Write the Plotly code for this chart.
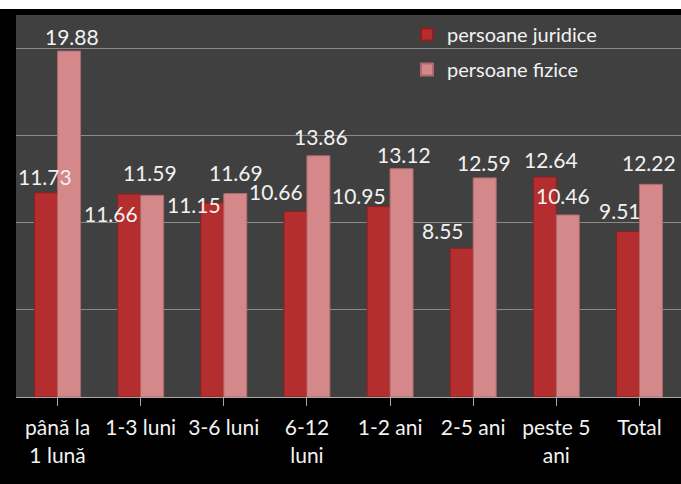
import plotly.graph_objects as go

categories = ["până la<br>1 lună", "1-3 luni", "3-6 luni", "6-12<br>luni",
              "1-2 ani", "2-5 ani", "peste 5<br>ani", "Total"]
juridice = [11.73, 11.66, 11.15, 10.66, 10.95, 8.55, 12.64, 9.51]
fizice = [19.88, 11.59, 11.69, 13.86, 13.12, 12.59, 10.46, 12.22]
series_names = ["persoane juridice", "persoane fizice"]

# label placement tweaks (pixels, relative to bar top centre)
jur_dx = [-1, -18, -18, -19, -20, -19, 6, -8]
jur_dy = [16, -19, -2, 20, 11, 18, 18, 21]
fiz_dx = [3, -2, 1, 3, 2, -1, -5, -2]
fiz_dy = [15, 23, 21, 19, 14, 15, 19, 22]

FONT = "Lato"
RED = "#b52e2f"
RED_EDGE = "#8c1f21"
PINK = "#d4888a"
PINK_EDGE = "#b06a6c"

x_idx = list(range(len(categories)))
BARGAP = 0.447
half = (1 - BARGAP) / 4  # centre offset of each bar in category units

fig = go.Figure()
fig.add_trace(go.Bar(x=x_idx, y=juridice, name=series_names[0],
                     marker=dict(color=RED, line=dict(color=RED_EDGE, width=1)),
                     legendgroup="a"))
fig.add_trace(go.Bar(x=x_idx, y=fizice, name=series_names[1],
                     marker=dict(color=PINK, line=dict(color=PINK_EDGE, width=1)),
                     legendgroup="b"))

annotations = []
for i, v in enumerate(juridice):
    annotations.append(dict(x=i - half, y=v, xref="x", yref="y", text=f"{v:.2f}",
                            showarrow=False, xshift=jur_dx[i], yshift=jur_dy[i],
                            xanchor="center", yanchor="middle",
                            font=dict(family=FONT, size=21, color="#f2f2f2")))
for i, v in enumerate(fizice):
    annotations.append(dict(x=i + half, y=v, xref="x", yref="y", text=f"{v:.2f}",
                            showarrow=False, xshift=fiz_dx[i], yshift=fiz_dy[i],
                            xanchor="center", yanchor="middle",
                            font=dict(family=FONT, size=21, color="#f2f2f2")))

fig.update_layout(
    width=681, height=484,
    margin=dict(l=16, r=0, t=15, b=87),
    paper_bgcolor="#000000",
    plot_bgcolor="#404040",
    barmode="group",
    bargap=BARGAP,
    bargroupgap=0,
    font=dict(family=FONT, color="#f2f2f2"),
    legend=dict(x=0.588, y=1.0, xanchor="left", yanchor="top",
                bgcolor="rgba(0,0,0,0)", font=dict(family=FONT, size=20, color="#f2f2f2"),
                tracegroupgap=6, itemsizing="constant"),
    annotations=annotations,
    shapes=[dict(type="rect", xref="paper", yref="paper", x0=-0.1, x1=1.1,
                 y0=1 + 6 / 382, y1=1.1, fillcolor="#ffffff", line=dict(width=0),
                 layer="above")],
)
fig.update_xaxes(
    range=[-0.5, 7.5], tickmode="array", tickvals=x_idx, ticktext=categories,
    showline=True, linecolor="#a6a6a6", linewidth=1,
    ticks="outside", tickson="boundaries", ticklen=8, tickcolor="#a6a6a6",
    tickfont=dict(family=FONT, size=21, color="#f2f2f2"),
    ticklabelstandoff=4,
    showgrid=False, zeroline=False, fixedrange=True,
)
fig.update_yaxes(
    range=[0, 21.95], dtick=5, showticklabels=False,
    showgrid=True, gridcolor="#8a8a8a", gridwidth=1, zeroline=False,
    fixedrange=True,
)

fig.write_html(
    "out.html",
    config={"displayModeBar": False},
    post_script="document.body.style.margin='0';document.body.style.overflow='hidden';",
)
